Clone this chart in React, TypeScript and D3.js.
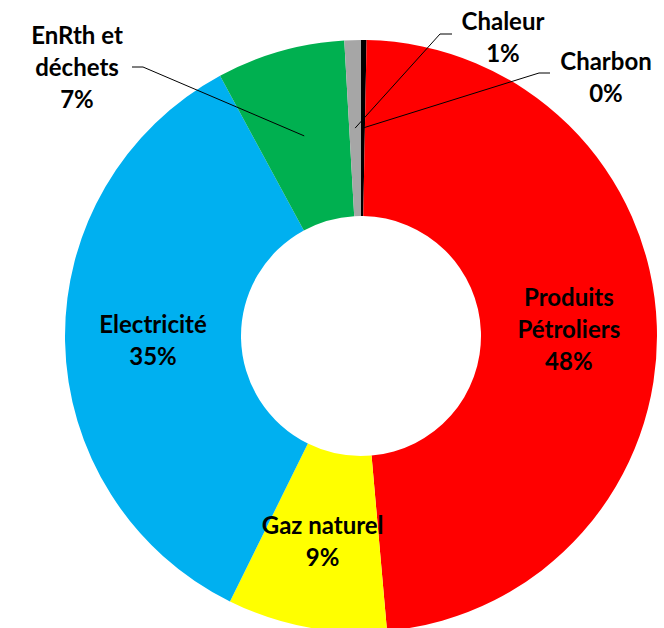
import React from 'react';
import * as d3 from 'd3';

const categories = ['Charbon', 'Produits Pétroliers', 'Gaz naturel', 'Electricité', 'EnRth et déchets', 'Chaleur'];
const shares = [0.3, 48.3, 8.7, 34.8, 7.0, 0.9];
const colors = ['#000000', '#FF0000', '#FFFF00', '#00B0F0', '#00B050', '#A6A6A6'];
const labelLines = [['Charbon'], ['Produits', 'Pétroliers'], ['Gaz naturel'], ['Electricité'], ['EnRth et', 'déchets'], ['Chaleur']];

// labels that sit outside the ring, with a leader line back to the slice
const outside: Record<string, { x: number; y: number; from: [number, number]; elbow: [number, number] }> = {
  'EnRth et déchets': { x: 77, y: 66, from: [132, 67], elbow: [143, 67] },
  'Chaleur': { x: 503, y: 36, from: [452, 34], elbow: [440, 34] },
  'Charbon': { x: 606, y: 76, from: [550, 73], elbow: [539, 73] },
};

const W = 664;
const H = 628;
const cx = 361;
const cy = 336;
const outerR = 296;
const innerR = 120;
const lineH = 32;

const App = () => {
  const total = d3.sum(shares);
  const pie = d3.pie<number>().sort(null).value(d => d)(shares);
  const arc = d3.arc<d3.PieArcDatum<number>>().innerRadius(innerR).outerRadius(outerR);

  const renderLabel = (lines: string[], x: number, y: number, key: string) => {
    const all = [...lines];
    const n = all.length;
    return (
      <text key={key} textAnchor="middle" style={{ fontFamily: 'Lato', fontWeight: 700, fontSize: 24 }} fill="#000">
        {all.map((l, i) => (
          <tspan key={i} x={x} y={y + (i - (n - 1) / 2) * lineH} dominantBaseline="central">{l}</tspan>
        ))}
      </text>
    );
  };

  return (
    <svg width={W} height={H} style={{ position: 'absolute', left: 0, top: 0, background: '#fff' }}>
      <g transform={`translate(${cx},${cy})`}>
        {pie.map((d, i) => (
          <path key={categories[i]} d={arc(d) || ''} fill={colors[i]} />
        ))}
      </g>
      {pie.map((d, i) => {
        const name = categories[i];
        const pct = `${Math.round((d.value / total) * 100)}%`;
        const lines = [...labelLines[i], pct];
        const [px, py] = arc.centroid(d);
        const o = outside[name];
        if (o) {
          return (
            <g key={name}>
              <polyline
                points={`${o.from[0]},${o.from[1]} ${o.elbow[0]},${o.elbow[1]} ${cx + px},${cy + py}`}
                fill="none"
                stroke="#000"
                strokeWidth={1}
              />
              {renderLabel(lines, o.x, o.y, name + '-t')}
            </g>
          );
        }
        return renderLabel(lines, cx + px, cy + py, name);
      })}
    </svg>
  );
};

export default App;
